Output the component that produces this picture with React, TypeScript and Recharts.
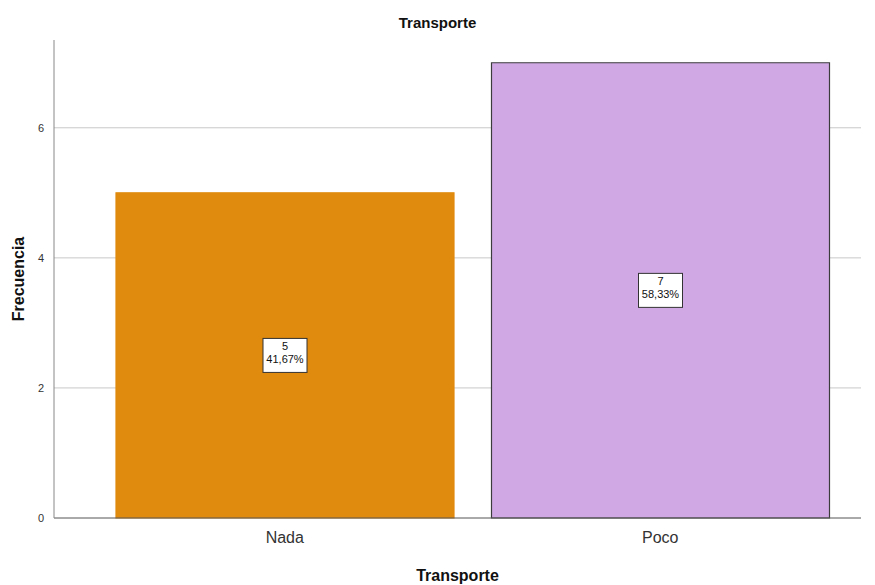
import React from 'react'
import { BarChart, Bar, XAxis, YAxis, CartesianGrid, Cell, LabelList, Label } from 'recharts'

const categories = ['Nada', 'Poco']
const counts = [5, 7]
const percents = ['41,67%', '58,33%']
const colors = ['#E08A0E', '#D0A9E4']
const strokes = ['#E08A0E', '#3C3C3C']
const yTicks = [0, 2, 4, 6]

const data = categories.map((name, i) => ({ name, value: counts[i], pct: percents[i] }))

const renderBoxLabel = (props: any) => {
  const { x, y, width, height, index } = props
  const cx = x + width / 2
  const cy = y + height / 2
  const w = 44
  const h = 34
  return (
    <g>
      <rect x={cx - w / 2} y={cy - h / 2} width={w} height={h} fill="#fff" stroke="#333" strokeWidth={1} />
      <text x={cx} y={cy - 5} textAnchor="middle" fontSize={11} fill="#111" fontFamily="Arial, 'Liberation Sans', sans-serif">
        {counts[index]}
      </text>
      <text x={cx} y={cy + 8} textAnchor="middle" fontSize={11} fill="#111" fontFamily="Arial, 'Liberation Sans', sans-serif">
        {percents[index]}
      </text>
    </g>
  )
}

export default function App() {
  const font = "Arial, 'Liberation Sans', sans-serif"
  return (
    <div style={{ position: 'absolute', left: 0, top: 0, width: 875, height: 585, background: '#fff', fontFamily: font }}>
      <div style={{ position: 'absolute', top: 14, width: 875, textAlign: 'center', fontSize: 15, fontWeight: 'bold', color: '#111' }}>
        Transporte
      </div>
      <BarChart
        width={875}
        height={585}
        data={data}
        margin={{ top: 40, right: 14, bottom: 0, left: 0 }}
        barCategoryGap={19}
      >
        <CartesianGrid vertical={false} stroke="#c8c8c8" horizontalValues={[2, 4, 6]} />
        <XAxis
          dataKey="name"
          height={67}
          padding={{ left: 43, right: 13 }}
          tickLine={false}
          axisLine={{ stroke: '#555' }}
          tick={{ fontSize: 16, fill: '#333', fontFamily: font }}
          tickMargin={8}
        >
          <Label value="Transporte" position="insideBottom" offset={4} style={{ fontSize: 16, fontWeight: 'bold', fill: '#111', fontFamily: font }} />
        </XAxis>
        <YAxis
          width={54}
          domain={[0, 7.35]}
          ticks={yTicks}
          tickLine={false}
          axisLine={{ stroke: '#888' }}
          tick={{ fontSize: 11, fill: '#333', fontFamily: font }}
          tickMargin={4}
        >
          <Label value="Frecuencia" angle={-90} position="insideLeft" offset={18} style={{ fontSize: 16, fontWeight: 'bold', fill: '#111', fontFamily: font, textAnchor: 'middle' }} />
        </YAxis>
        <Bar dataKey="value" isAnimationActive={false}>
          {data.map((d, i) => (
            <Cell key={d.name} fill={colors[i]} stroke={strokes[i]} strokeWidth={1.2} />
          ))}
          <LabelList dataKey="value" content={renderBoxLabel} />
        </Bar>
      </BarChart>
    </div>
  )
}
